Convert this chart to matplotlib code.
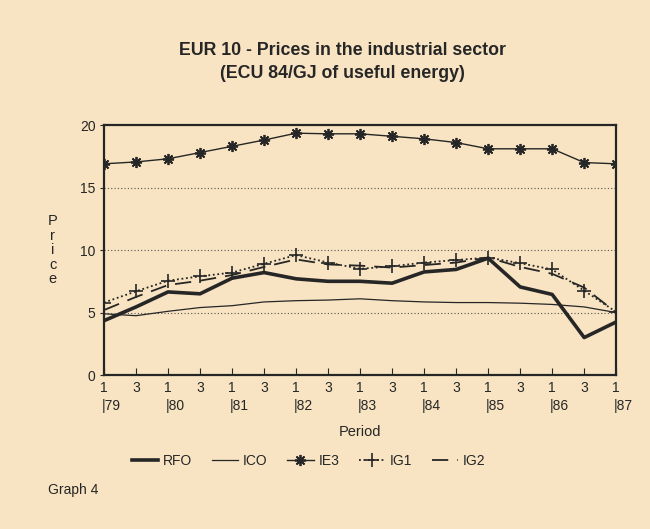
import matplotlib
matplotlib.use("Agg")
import matplotlib.pyplot as plt
from matplotlib.transforms import blended_transform_factory

plt.rcParams['font.family'] = ['Liberation Sans', 'DejaVu Sans']

# half-yearly periods 1/79 .. 1/87
periodos = list(range(17))
etiquetas_x = ["1", "3"] * 8 + ["1"]
anios = ["79", "80", "81", "82", "83", "84", "85", "86", "87"]

rfo = [4.35, 5.45, 6.65, 6.5, 7.75, 8.2, 7.7, 7.5, 7.5, 7.35, 8.25, 8.45, 9.35, 7.05, 6.45, 3.0, 4.25]
ico = [4.9, 4.75, 5.1, 5.4, 5.55, 5.85, 5.95, 6.0, 6.1, 5.95, 5.85, 5.8, 5.8, 5.75, 5.65, 5.45, 5.0]
ie3 = [16.9, 17.05, 17.3, 17.8, 18.3, 18.8, 19.35, 19.3, 19.3, 19.1, 18.9, 18.6, 18.1, 18.1, 18.1, 17.0, 16.9]
ig1 = [5.8, 6.7, 7.55, 7.9, 8.2, 8.9, 9.6, 9.0, 8.5, 8.7, 9.0, 9.2, 9.4, 8.95, 8.45, 6.75, 5.05]
ig2 = [5.2, 6.25, 7.2, 7.55, 8.0, 8.65, 9.25, 8.85, 8.75, 8.6, 8.8, 9.0, 9.4, 8.65, 8.1, 7.0, 5.0]

fondo = "#f8e4c3"
tinta = "#262626"

fig = plt.figure(figsize=(6.5, 5.29), dpi=100, facecolor=fondo)
ax = fig.add_axes([0.16, 0.291, 0.788, 0.4726])
ax.set_facecolor(fondo)

ax.plot(periodos, rfo, color=tinta, lw=2.6, label="RFO")
ax.plot(periodos, ico, color=tinta, lw=0.9, label="ICO")
ax.plot(periodos, ie3, color=tinta, lw=1.0, marker=(8, 2, 0), ms=8, mew=1.3, label="IE3")
ax.plot(periodos, ig1, color=tinta, lw=1.3, ls=(0, (1, 1.5)), marker="+", ms=10, mew=1.2, label="IG1")
ax.plot(periodos, ig2, color=tinta, lw=1.3, ls=(0, (9, 5)), label="IG2")

ax.set_xlim(0, 16)
ax.set_ylim(0, 20)
ax.set_yticks([0, 5, 10, 15, 20])
ax.set_xticks(periodos)
ax.set_xticklabels(etiquetas_x)
ax.tick_params(axis="x", direction="in", length=5, pad=4, labelsize=10, colors=tinta)
ax.tick_params(axis="y", direction="out", length=3, pad=3, labelsize=10, colors=tinta)
for y in [5, 10, 15]:
    ax.axhline(y, color="#555555", lw=0.8, ls=(0, (1, 2)), zorder=0)
for lado in ax.spines.values():
    lado.set_linewidth(1.6)
    lado.set_color(tinta)

trans = blended_transform_factory(ax.transData, ax.transAxes)
for i, a in enumerate(anios):
    ax.text(i * 2 - 0.08, -0.095, "|" + a, transform=trans, ha="left", va="top",
            fontsize=10, color=tinta)

ax.text(0.5, -0.2, "Period", transform=ax.transAxes, ha="center", va="top",
        fontsize=10.5, color=tinta)
ax.text(-0.1, 0.5, "P\nr\ni\nc\ne", transform=ax.transAxes, ha="center", va="center",
        fontsize=10.5, color=tinta, linespacing=1.05)

fig.text(0.527, 0.905, "EUR 10 - Prices in the industrial sector", ha="center", va="center",
         fontsize=12.8, fontweight="bold", color=tinta)
fig.text(0.527, 0.861, "(ECU 84/GJ of useful energy)", ha="center", va="center",
         fontsize=12.8, fontweight="bold", color=tinta)

ax.legend(loc="upper center", bbox_to_anchor=(0.40, -0.265), ncol=5, frameon=False,
          fontsize=10, handlelength=1.9, columnspacing=1.4, handletextpad=0.35,
          labelcolor=tinta)

fig.text(0.074, 0.073, "Graph 4", ha="left", va="center", fontsize=10, color=tinta)

fig.savefig("out.png", dpi=100, facecolor=fondo)
